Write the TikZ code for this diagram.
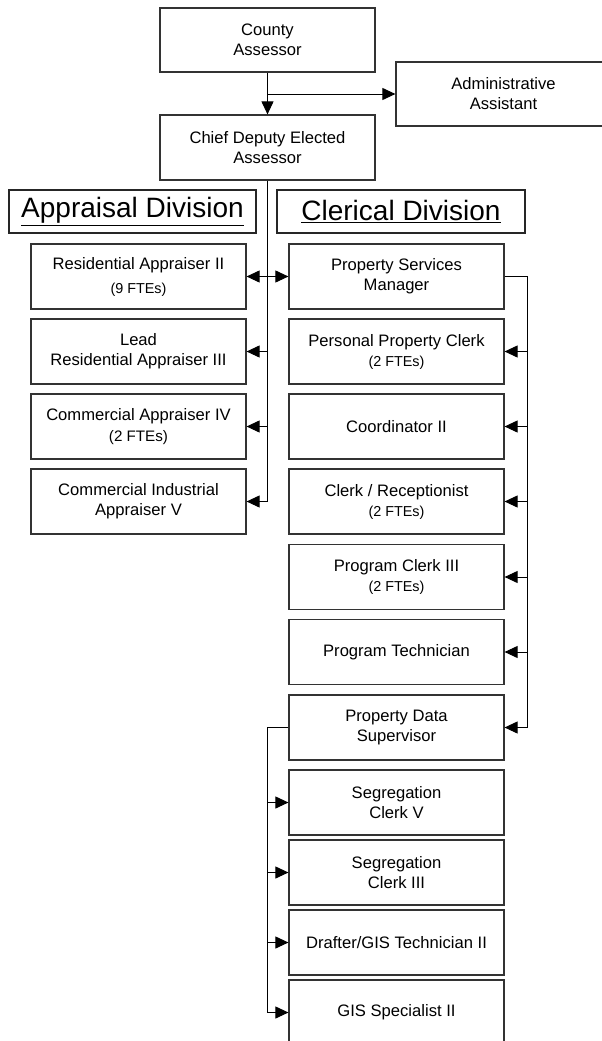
\documentclass[tikz,border=0pt]{standalone}
\usepackage{fontspec}
\setmainfont{Liberation Sans}
\usetikzlibrary{arrows.meta}
\newcommand{\smallfte}[1]{{\fontsize{14.4}{17}\selectfont #1}}
\tikzset{
  box/.style={draw=black!80, line width=1.2pt, fill=white, minimum width=215pt, minimum height=65pt, align=center, inner sep=0pt, font=\fontsize{16.6}{20}\selectfont},
  hdr/.style={draw=black!85, line width=1.3pt, minimum height=43pt, inner sep=0pt, font=\fontsize{28}{32}\selectfont},
  conn/.style={draw=black, line width=1pt},
  arr/.style={conn, -{Triangle[length=13pt,width=12pt]}}
}
\begin{document}
\begin{tikzpicture}[x=1pt,y=-1pt]
\useasboundingbox (0,0) rectangle (602,1041);
\clip (0,0) rectangle (602,1041);
% top
\node[box, minimum height=64pt] (county) at (267.5,40) {County\\Assessor};
\node[box, minimum height=64pt] (admin) at (503.5,94) {Administrative\\Assistant};
\node[box] (chief) at (267.5,147.5) {Chief Deputy Elected\\Assessor};
% headers
\node[hdr, minimum width=247pt] (apphdr) at (132.5,211.5) {\raisebox{-2pt}{\underline{Appraisal Division}}};
\node[hdr, minimum width=248pt] (clehdr) at (401,211.5) {\raisebox{-2pt}{\underline{Clerical Division}}};
% appraisal column
\node[box] (resapp) at (138.5,276.5) {Residential Appraiser II\\[4pt]\smallfte{(9 FTEs)}};
\node[box] (lead) at (138.5,351.5) {Lead\\Residential Appraiser III};
\node[box] (comapp) at (138.5,426.5) {Commercial Appraiser IV\\[1pt]{\fontsize{15.2}{18}\selectfont (2 FTEs)}};
\node[box] (comind) at (138.5,501.5) {Commercial Industrial\\Appraiser V};
% clerical column
\node[box] (psm) at (396.5,276.5) {Property Services\\Manager};
\node[box] (ppc) at (396.5,351.5) {Personal Property Clerk\\\smallfte{(2 FTEs)}};
\node[box] (coord) at (396.5,426.5) {Coordinator II};
\node[box] (clerk) at (396.5,501.5) {Clerk / Receptionist\\\smallfte{(2 FTEs)}};
\node[box] (pclerk) at (396.5,577) {Program Clerk III\\\smallfte{(2 FTEs)}};
\node[box] (ptech) at (396.5,652) {Program Technician};
\node[box] (pds) at (396.5,727.5) {Property Data\\Supervisor};
\node[box] (segv) at (396.5,802.5) {Segregation\\Clerk V};
\node[box] (segiii) at (396.5,872.5) {Segregation\\Clerk III};
\node[box] (drafter) at (396.5,942.5) {Drafter/GIS Technician II};
\node[box] (gis) at (396.5,1012.5) {GIS Specialist II};
% connectors top
\draw[arr] (county) -- (chief);
\draw[arr] (county.south |- admin.west) -- (admin.west);
% chief bus
\draw[conn] (chief.south) -- (chief.south |- comind.east);
\draw[arr] (chief.south |- resapp.east) -- (resapp.east);
\draw[arr] (chief.south |- psm.west) -- (psm.west);
\draw[arr] (chief.south |- lead.east) -- (lead.east);
\draw[arr] (chief.south |- comapp.east) -- (comapp.east);
\draw[arr] (chief.south |- comind.east) -- (comind.east);
% psm bus
\coordinate (rbus) at (527,276.5);
\draw[conn] (psm.east) -- (rbus) -- (rbus |- pds.east);
\draw[arr] (rbus |- ppc.east) -- (ppc.east);
\draw[arr] (rbus |- coord.east) -- (coord.east);
\draw[arr] (rbus |- clerk.east) -- (clerk.east);
\draw[arr] (rbus |- pclerk.east) -- (pclerk.east);
\draw[arr] (rbus |- ptech.east) -- (ptech.east);
\draw[arr] (rbus |- pds.east) -- (pds.east);
% pds bus
\coordinate (lbus) at (267.5,727.5);
\draw[conn] (pds.west) -- (lbus) -- (lbus |- gis.west);
\draw[arr] (lbus |- segv.west) -- (segv.west);
\draw[arr] (lbus |- segiii.west) -- (segiii.west);
\draw[arr] (lbus |- drafter.west) -- (drafter.west);
\draw[arr] (lbus |- gis.west) -- (gis.west);
\end{tikzpicture}
\end{document}
